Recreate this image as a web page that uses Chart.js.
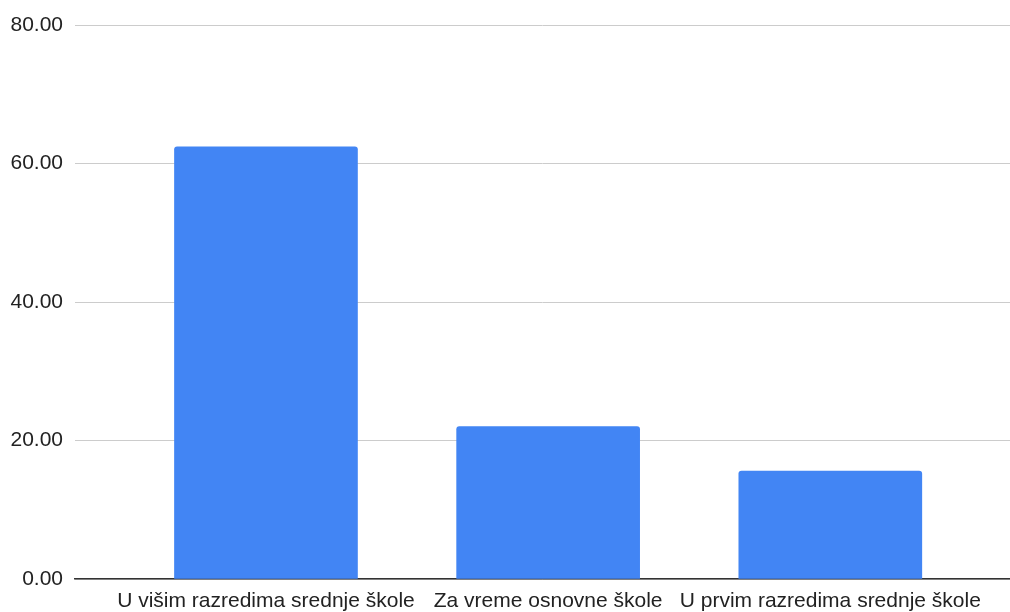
<!DOCTYPE html>
<html>
<head>
<meta charset="utf-8">
<script src="https://cdn.jsdelivr.net/npm/chart.js@4"></script>
<style>
  html, body { margin: 0; padding: 0; background: #fff; }
  #wrap { width: 1010px; height: 612px; }
</style>
</head>
<body>
<div id="wrap"><canvas id="chart" width="1010" height="612"></canvas></div>
<script>
// categories and values
const categories = [
  'U višim razredima srednje škole',
  'Za vreme osnovne škole',
  'U prvim razredima srednje škole',
];
const percents = [62.4, 22.0, 15.6];
const yTicks = [0, 20, 40, 60, 80];

// bars sit at x = 1, 2, 3 on a linear axis so the plot can be wider than the bars
const points = categories.map((c, i) => ({x: i + 1, y: percents[i]}));

const font = {family: '"Liberation Sans", Arial, sans-serif', size: 21};

const chart = new Chart(document.getElementById('chart').getContext('2d'), {
  type: 'bar',
  data: {
    datasets: [{
      data: points,
      backgroundColor: '#4285F4',
      borderRadius: 3,
      barThickness: 183,
    }]
  },
  options: {
    responsive: false,
    animation: false,
    layout: {padding: {top: 25, right: 0, bottom: 0, left: 0}},
    plugins: {legend: {display: false}, tooltip: {enabled: false}},
    scales: {
      x: {
        type: 'linear',
        offset: false,
        min: 0.3232,
        max: 3.6368,
        afterFit: s => { s.height = 33; },
        grid: {display: false, drawTicks: false, offset: false},
        border: {display: true, color: '#333', width: 1.5},
        ticks: {
          stepSize: 1,
          includeBounds: false,
          autoSkip: false,
          maxRotation: 0,
          minRotation: 0,
          padding: 10,
          color: '#222',
          font: font,
          callback: v => categories[v - 1] || '',
        },
      },
      y: {
        min: yTicks[0],
        max: yTicks[yTicks.length - 1],
        afterFit: s => { s.width = 75; },
        afterBuildTicks: s => { s.ticks = yTicks.map(v => ({value: v})); },
        grid: {color: '#cccccc', drawTicks: false},
        border: {display: false},
        ticks: {
          padding: 12,
          color: '#222',
          font: font,
          callback: v => v.toFixed(2),
        },
      },
    },
  },
});
</script>
</body>
</html>
